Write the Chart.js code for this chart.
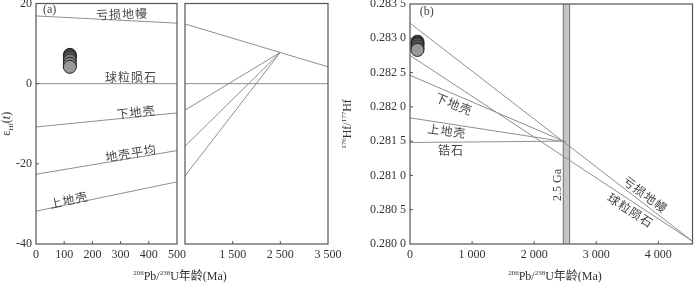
<!DOCTYPE html>
<html>
<head>
<meta charset="utf-8">
<script src="https://cdn.jsdelivr.net/npm/chart.js@4.4.0/dist/chart.umd.min.js"></script>
<style>
    html, body { margin: 0; padding: 0; background: #fff; width: 700px; height: 282px; overflow: hidden; position: relative; }
    .box { position: absolute; }
</style>
</head>
<body>
<div class="box" style="left:0;top:-10px;width:260px;height:292px"><canvas id="chartA1"></canvas></div>
<div class="box" style="left:175px;top:-10px;width:171px;height:292px"><canvas id="chartA2"></canvas></div>
<div class="box" style="left:340px;top:-10px;width:360px;height:292px"><canvas id="chartB"></canvas></div>
<script>
// (a) left part: 0-500 Ma
const xTicksA1 = [0, 100, 200, 300, 400, 500];
const yTicksA = [-40, -20, 0, 20];
const agesA = [120, 120, 120, 120, 120, 120];
const epsHf = [7.2, 6.9, 6.4, 5.8, 4.9, 4.2];
const xEndsA1 = [0, 500];
const dmA1 = [16.9, 15.1];
const churA1 = [0, 0];
const lcA1 = [-10.8, -7.3];
const avgA1 = [-22.6, -16.7];
const ucA1 = [-31.8, -24.5];

// (a) right part: 500-3500 Ma
const xTicksA2 = [1500, 2500, 3500];
const xEndsA2 = [500, 3500];
const dmA2 = [14.9, 4.2];
const churA2 = [0, 0];
const xCrustA2 = [500, 2500];
const lcA2 = [-6.6, 7.8];
const avgA2 = [-15.6, 7.8];
const ucA2 = [-23, 7.8];

// (b)
const xTicksB = [0, 1000, 2000, 3000, 4000];
const yTicksB = [0.28, 0.2805, 0.281, 0.2815, 0.282, 0.2825, 0.283, 0.2835];
const agesB = [120, 120, 120, 120, 120, 120];
const hfRatio = [0.28295, 0.28293, 0.28291, 0.28288, 0.28285, 0.28283];
const xEndsB = [0, 4550];
const dmB = [0.28322, 0.28004];
const churB = [0.28275, 0.28004];
const xCrustB = [0, 2500];
const lcB = [0.28246, 0.28149];
const ucB = [0.28184, 0.28149];
const zrB = [0.28148, 0.2815];
const bandB = [2470, 2570];

const pointColors = ['#4a4a4a', '#575757', '#666666', '#767676', '#8a8a8a', '#999999'];

const serif = '"Liberation Serif", "DejaVu Serif", serif';
const cjk = '"Noto Sans CJK SC", sans-serif';
const txt = '#333';

function fmtThousands(v) {
    return v >= 1000 ? Math.floor(v / 1000) + ' ' + String(v % 1000).padStart(3, '0') : String(v);
}
function fmtRatio(v) {
    const s = v.toFixed(4);
    return s.slice(0, -1) + ' ' + s.slice(-1);
}

function lineSet(xs, ys) {
    return {
        data: xs.map((x, i) => ({ x: x, y: ys[i] })),
        showLine: true,
        borderColor: '#8e8e8e',
        borderWidth: 1,
        pointRadius: 0,
        fill: false
    };
}
function pointSet(xs, ys) {
    return {
        data: xs.map((x, i) => ({ x: x, y: ys[i] })),
        pointRadius: 6.5,
        pointBackgroundColor: pointColors,
        pointBorderColor: '#222',
        pointBorderWidth: 1
    };
}

function drawRich(ctx, parts, cx, cy, rot) {
    ctx.save();
    ctx.translate(cx, cy);
    ctx.rotate(rot);
    ctx.textBaseline = 'alphabetic';
    ctx.textAlign = 'left';
    ctx.fillStyle = txt;
    let w = 0;
    parts.forEach(p => { ctx.font = p.f; p.w = ctx.measureText(p.t).width; w += p.w; });
    let x = -w / 2;
    parts.forEach(p => { ctx.font = p.f; ctx.fillText(p.t, x, 4 + (p.dy || 0)); x += p.w; });
    ctx.restore();
}

const sup = '7px ' + serif;
const main = '12px ' + serif;
const ageTitle = [
    { t: '206', f: sup, dy: -5 }, { t: 'Pb/', f: main }, { t: '238', f: sup, dy: -5 },
    { t: 'U', f: main }, { t: '年龄', f: '12px ' + cjk }, { t: '(Ma)', f: main }
];

// frame, inward ticks, text notes, band
function decor(cfg) {
    return {
        id: 'decor',
        beforeDatasetsDraw(chart) {
            if (!cfg.band) return;
            const { ctx, chartArea: a, scales } = chart;
            const x0 = scales.x.getPixelForValue(cfg.band[0]);
            const x1 = scales.x.getPixelForValue(cfg.band[1]);
            ctx.save();
            ctx.fillStyle = '#c4c4c4';
            ctx.fillRect(x0, a.top, x1 - x0, a.bottom - a.top);
            ctx.strokeStyle = '#808080';
            ctx.lineWidth = 1.2;
            ctx.beginPath();
            ctx.moveTo(x0, a.top); ctx.lineTo(x0, a.bottom);
            ctx.moveTo(x1, a.top); ctx.lineTo(x1, a.bottom);
            ctx.stroke();
            ctx.restore();
        },
        afterDraw(chart) {
            const { ctx, chartArea: a, scales } = chart;
            ctx.save();
            ctx.strokeStyle = '#555';
            ctx.lineWidth = 1.2;
            ctx.strokeRect(a.left, a.top, a.right - a.left, a.bottom - a.top);
            ctx.lineWidth = 1;
            ctx.beginPath();
            scales.x.ticks.forEach(t => {
                const px = scales.x.getPixelForValue(t.value);
                if (px > a.left + 2 && px < a.right - 2) { ctx.moveTo(px, a.bottom); ctx.lineTo(px, a.bottom - 3); }
            });
            if (cfg.yTicks) {
                scales.y.ticks.forEach(t => {
                    const py = scales.y.getPixelForValue(t.value);
                    if (py > a.top + 2 && py < a.bottom - 2) { ctx.moveTo(a.left, py); ctx.lineTo(a.left + 3, py); }
                });
            }
            ctx.stroke();

            (cfg.notes || []).forEach(n => {
                const px = scales.x.getPixelForValue(n.x);
                const py = scales.y.getPixelForValue(n.y);
                ctx.save();
                ctx.translate(px, py);
                ctx.rotate((n.rot || 0) * Math.PI / 180);
                ctx.font = n.font || ('12px ' + cjk);
                ctx.letterSpacing = n.font ? '0px' : '1px';
                ctx.fillStyle = '#444';
                ctx.textAlign = n.align || 'center';
                ctx.textBaseline = 'middle';
                ctx.fillText(n.text, 0, 0);
                ctx.restore();
            });

            if (cfg.xTitle) drawRich(ctx, ageTitle, cfg.xTitle, a.bottom + 31.5, 0);
            if (cfg.yTitle) drawRich(ctx, cfg.yTitle, a.left + cfg.yTitleDx, (a.top + a.bottom) / 2, -Math.PI / 2);
            ctx.restore();
        }
    };
}

function axis(min, max, ticks, fmt, extra) {
    return Object.assign({
        type: 'linear',
        min: min,
        max: max,
        afterBuildTicks: s => { s.ticks = ticks.map(v => ({ value: v })); },
        grid: { display: false, drawTicks: false },
        border: { display: false },
        ticks: {
            autoSkip: false,
            maxRotation: 0,
            padding: 4,
            color: txt,
            font: { family: serif, size: 12 },
            callback: fmt
        }
    }, extra);
}

const baseOptions = {
    responsive: true,
    maintainAspectRatio: false,
    animation: false,
    plugins: { legend: { display: false }, tooltip: { enabled: false } }
};

// Panel (a), 0-500 Ma
new Chart(document.getElementById('chartA1'), {
    type: 'scatter',
    data: {
        datasets: [
            lineSet(xEndsA1, dmA1),
            lineSet(xEndsA1, churA1),
            lineSet(xEndsA1, lcA1),
            lineSet(xEndsA1, avgA1),
            lineSet(xEndsA1, ucA1),
            pointSet(agesA, epsHf)
        ]
    },
    options: Object.assign({}, baseOptions, {
        layout: { padding: { top: 13.5, right: 83, bottom: 0, left: 0 } },
        scales: {
            x: axis(0, 500, xTicksA1, v => String(v), { afterFit: s => { s.height = 38; } }),
            y: axis(-40, 20, yTicksA, v => String(v), { afterFit: s => { s.width = 36; } })
        }
    }),
    plugins: [decor({
        yTicks: true,
        xTitle: 180,
        yTitle: [
            { t: 'ε', f: '12px ' + serif }, { t: 'Hf', f: '7px ' + serif, dy: 3 },
            { t: '(', f: main }, { t: 't', f: 'italic 12px ' + serif }, { t: ')', f: main }
        ],
        yTitleDx: -30,
        notes: [
            { text: '(a)', x: 25, y: 18.3, align: 'left', font: '12px ' + serif },
            { text: '亏损地幔', x: 305, y: 17.4, rot: -2 },
            { text: '球粒陨石', x: 337, y: 1.6 },
            { text: '下地壳', x: 355, y: -7.1, rot: -6 },
            { text: '地壳平均', x: 337, y: -17.3, rot: -9.5 },
            { text: '上地壳', x: 117, y: -29, rot: -12 }
        ]
    })]
});

// Panel (a), 500-3500 Ma
new Chart(document.getElementById('chartA2'), {
    type: 'scatter',
    data: {
        datasets: [
            lineSet(xEndsA2, dmA2),
            lineSet(xEndsA2, churA2),
            lineSet(xCrustA2, lcA2),
            lineSet(xCrustA2, avgA2),
            lineSet(xCrustA2, ucA2)
        ]
    },
    options: Object.assign({}, baseOptions, {
        layout: { padding: { top: 13.5, right: 18, bottom: 0, left: 10 } },
        scales: {
            x: axis(500, 3500, xTicksA2, fmtThousands, { afterFit: s => { s.height = 38; } }),
            y: axis(-40, 20, yTicksA, v => String(v), { display: false })
        }
    }),
    plugins: [decor({})]
});

// Panel (b)
new Chart(document.getElementById('chartB'), {
    type: 'scatter',
    data: {
        datasets: [
            lineSet(xEndsB, dmB),
            lineSet(xEndsB, churB),
            lineSet(xCrustB, lcB),
            lineSet(xCrustB, ucB),
            lineSet(xCrustB, zrB),
            pointSet(agesB, hfRatio)
        ]
    },
    options: Object.assign({}, baseOptions, {
        layout: { padding: { top: 14, right: 0.7, bottom: 0, left: 0 } },
        scales: {
            x: axis(0, 4550, xTicksB, fmtThousands, { afterFit: s => { s.height = 38; } }),
            y: axis(0.28, 0.2835, yTicksB, fmtRatio, { afterFit: s => { s.width = 70; } })
        }
    }),
    plugins: [decor({
        yTicks: true,
        band: bandB,
        xTitle: 215,
        yTitle: [
            { t: '176', f: sup, dy: -5 }, { t: 'Hf/', f: main },
            { t: '177', f: sup, dy: -5 }, { t: 'Hf', f: main }
        ],
        yTitleDx: -63,
        notes: [
            { text: '(b)', x: 157, y: 0.28338, align: 'left', font: '12px ' + serif },
            { text: '下地壳', x: 708, y: 0.28204, rot: 22 },
            { text: '上地壳', x: 597, y: 0.28165, rot: 8 },
            { text: '锆石', x: 660, y: 0.28136 },
            { text: '亏损地幔', x: 3789, y: 0.28072, rot: 37 },
            { text: '球粒陨石', x: 3553, y: 0.28049, rot: 33 },
            { text: '2.5 Ga', x: 2385, y: 0.28086, rot: -90, font: '12px ' + serif }
        ]
    })]
});
</script>
</body>
</html>
